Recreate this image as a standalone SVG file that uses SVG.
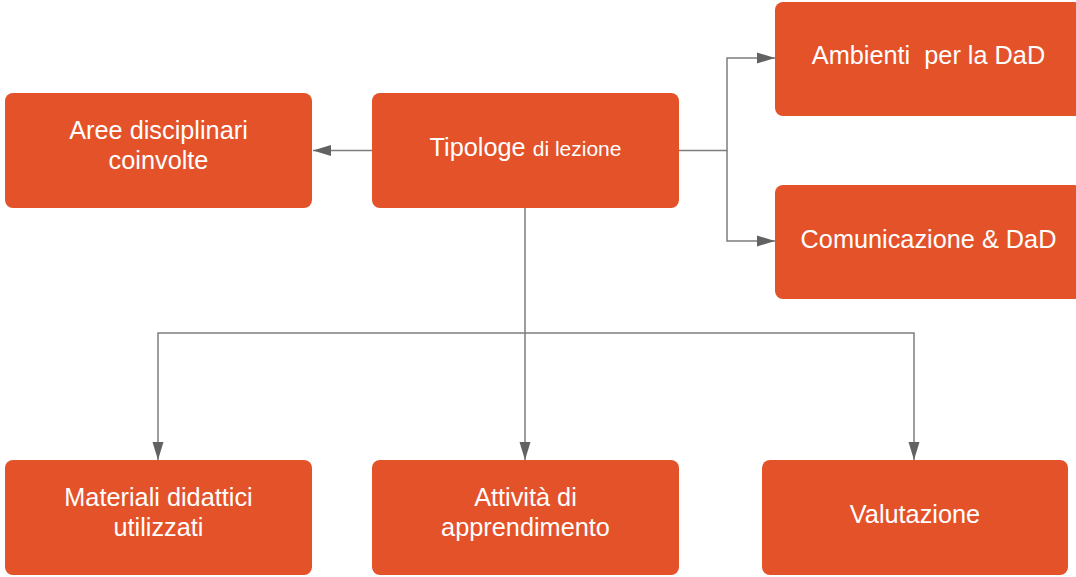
<svg xmlns="http://www.w3.org/2000/svg" width="1076" height="577" viewBox="0 0 1076 577">
<defs>
<marker id="arr" markerWidth="19" markerHeight="12" refX="18" refY="6" orient="auto" markerUnits="userSpaceOnUse">
<path d="M0,0.5 L18,6 L0,11.5 Z" fill="#626262"/>
</marker>
<style>
.box{fill:#E4522A;}
.t{font-family:"Liberation Sans",Arial,sans-serif;font-size:25.3px;fill:#ffffff;text-anchor:middle;}
.s{font-size:21px;}
.c{fill:none;stroke:#7d7d7d;stroke-width:1.5;}
</style>
</defs>
<rect width="1076" height="577" fill="#ffffff"/>
<g id="connectors">
<path class="c" d="M372,150.5 H313" marker-end="url(#arr)"/>
<path class="c" d="M679,150.5 H727 V58 H775" marker-end="url(#arr)"/>
<path class="c" d="M727,150.5 V241 H775" marker-end="url(#arr)"/>
<path class="c" d="M525,208 V460" marker-end="url(#arr)"/>
<path class="c" d="M525,333 H158 V460" marker-end="url(#arr)"/>
<path class="c" d="M525,333 H914 V460" marker-end="url(#arr)"/>
</g>
<g id="tipologie">
<rect class="box" x="372" y="93" width="307" height="115" rx="8"/>
<text class="t" x="525.5" y="156">Tipologe <tspan class="s">di lezione</tspan></text>
</g>
<g id="aree">
<rect class="box" x="5" y="93" width="307" height="115" rx="8"/>
<text class="t" x="158.5" y="139">Aree disciplinari</text>
<text class="t" x="158.5" y="169">coinvolte</text>
</g>
<g id="ambienti">
<rect class="box" x="775" y="2" width="307" height="114" rx="8"/>
<text class="t" x="928.5" y="64" xml:space="preserve">Ambienti  per la DaD</text>
</g>
<g id="comunicazione">
<rect class="box" x="775" y="185" width="307" height="114" rx="8"/>
<text class="t" x="928.5" y="248">Comunicazione &amp; DaD</text>
</g>
<g id="materiali">
<rect class="box" x="5" y="460" width="307" height="115" rx="8"/>
<text class="t" x="158.5" y="506">Materiali didattici</text>
<text class="t" x="158.5" y="536">utilizzati</text>
</g>
<g id="attivita">
<rect class="box" x="372" y="460" width="307" height="115" rx="8"/>
<text class="t" x="525.5" y="506">Attività di</text>
<text class="t" x="525.5" y="536">apprendimento</text>
</g>
<g id="valutazione">
<rect class="box" x="762" y="460" width="306" height="115" rx="8"/>
<text class="t" x="915" y="523">Valutazione</text>
</g>
</svg>
